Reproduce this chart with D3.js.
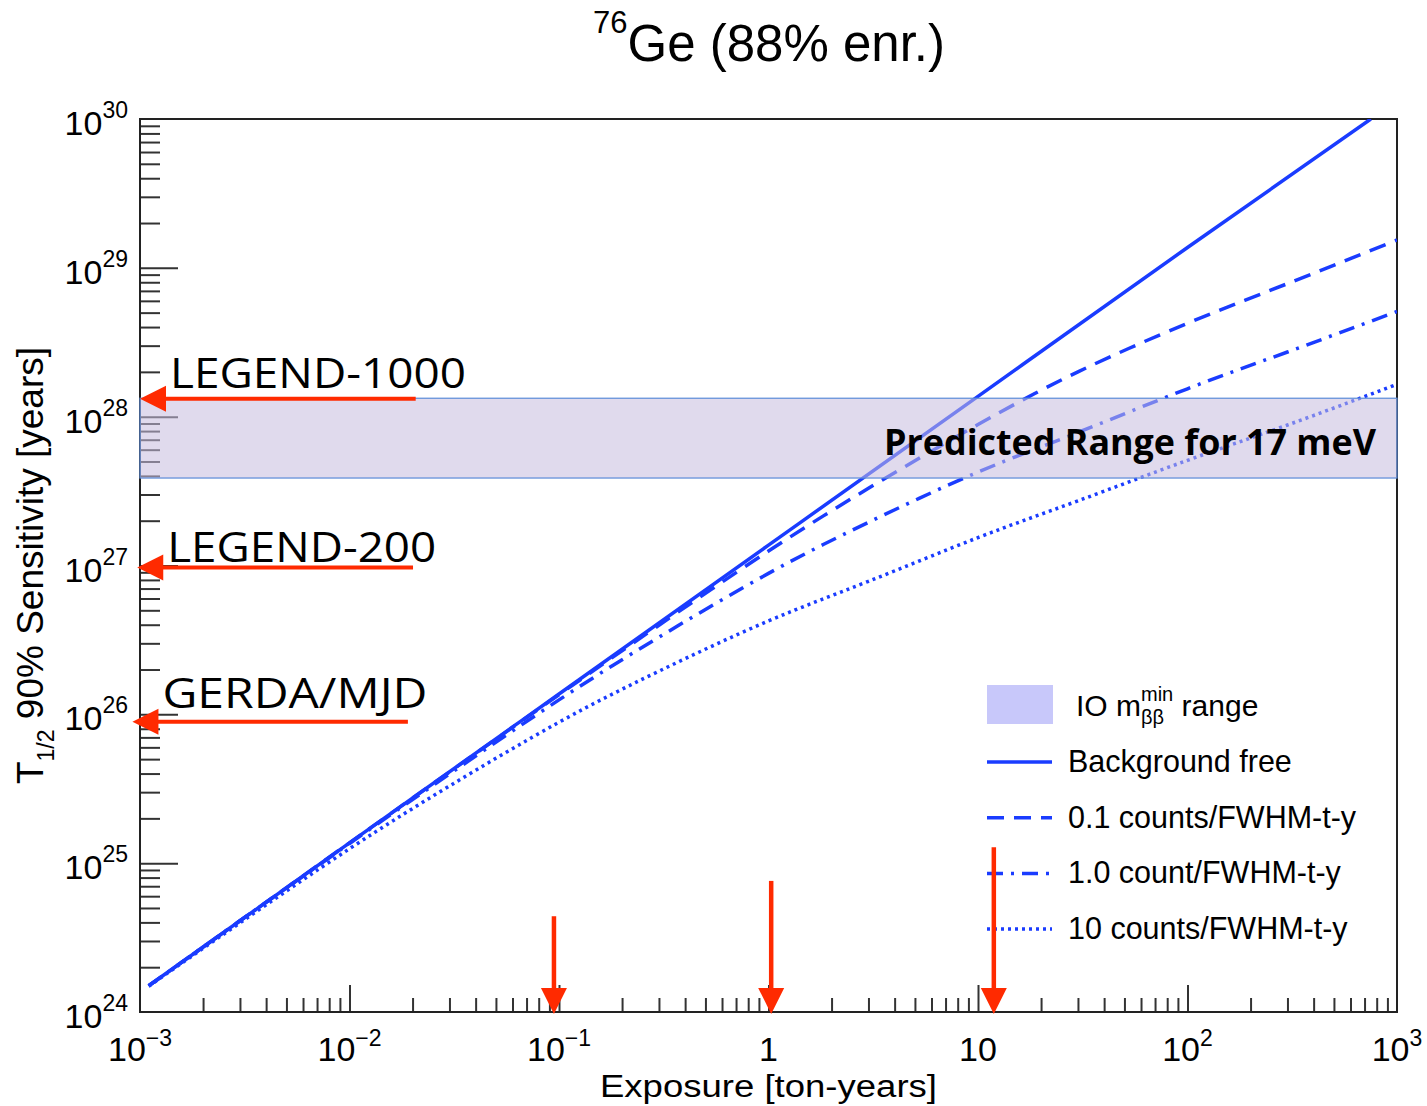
<!DOCTYPE html>
<html>
<head>
<meta charset="utf-8">
<script src="https://cdn.jsdelivr.net/npm/d3@7"></script>
<style>
  body { margin: 0; background: #fff; }
  svg text { font-family: "Liberation Sans", Arial, sans-serif; fill: #000; }
  .ppt { font-family: "Open Sans", "Noto Sans", sans-serif; }
</style>
</head>
<body>
<div id="chart"></div>
<script>
// ---- data ----
const bgFreeExposure = [0.0011, 0.01, 0.1, 1, 10, 100, 750];
const bgFreeT = [1.5e24, 1.37e25, 1.37e26, 1.37e27, 1.37e28, 1.37e29, 1e30];

const exposure = [0.0011, 0.003, 0.01, 0.03, 0.1, 0.3, 1, 3, 10, 30, 100, 300, 1000];
const bg01T = [1.5e24, 4.1e24, 1.37e25, 4.1e25, 1.355e26, 3.97e26, 1.25e27, 3.3e27, 8.85e27, 2.0e28, 4.24e28, 7.83e28, 1.54e29];
const bg1T = [1.5e24, 4.1e24, 1.355e25, 3.97e25, 1.25e26, 3.3e26, 8.85e26, 1.95e27, 4.24e27, 7.83e27, 1.54e28, 2.72e28, 5.09e28];
const bg10T = [1.49e24, 3.97e24, 1.25e25, 3.3e25, 8.85e25, 1.95e26, 4.24e26, 7.83e26, 1.54e27, 2.72e27, 5.09e27, 8.79e27, 1.65e28];

// IO band (predicted range for 17 meV)
const bandT = [3.87e27, 1.33e28];

const legendNames = ['Background free', '0.1 counts/FWHM-t-y', '1.0 count/FWHM-t-y', '10 counts/FWHM-t-y'];

// experiment markers (red arrows on the y axis)
const markerNames = ['LEGEND-1000', 'LEGEND-200', 'GERDA/MJD'];
const markerT = [1.32e28, 9.7e26, 8.9e25];
const markerTipE = [1e-3, 0.97e-3, 0.92e-3];
const markerTailE = [0.0207, 0.0201, 0.019];
// exposure markers (red arrows on the x axis)
const exposureMarks = [0.0946, 1.03, 11.9];
const exposureMarkTop = [4.4e24, 7.6e24, 1.28e25];

// tick labels
const xMajor = [1e-3, 1e-2, 1e-1, 1, 10, 100, 1000];
const xLabelBase = ['10', '10', '10', '1', '10', '10', '10'];
const xLabelExp = ['\u22123', '\u22122', '\u22121', '', '', '2', '3'];
const yMajor = [1e24, 1e25, 1e26, 1e27, 1e28, 1e29, 1e30];
const yLabelExp = ['24', '25', '26', '27', '28', '29', '30'];

// ---- layout ----
const width = 1427, height = 1106;
const plot = { left: 140, right: 1397, top: 119, bottom: 1012 };
const blue = '#1a3cff';
const red = '#ff2a00';

const svg = d3.select('#chart').append('svg')
  .attr('width', width)
  .attr('height', height);

const x = d3.scaleLog().domain([1e-3, 1e3]).range([plot.left, plot.right]);
const y = d3.scaleLog().domain([1e24, 1e30]).range([plot.bottom, plot.top]);

svg.append('clipPath').attr('id', 'clip')
  .append('rect')
  .attr('x', plot.left).attr('y', plot.top)
  .attr('width', plot.right - plot.left).attr('height', plot.bottom - plot.top);

// minor tick values
const yMinor = [], xMinor = [];
for (let e = 24; e < 30; e++) for (let k = 2; k <= 9; k++) yMinor.push(k * Math.pow(10, e));
for (let e = -3; e < 3; e++) for (let k = 2; k <= 9; k++) xMinor.push(k * Math.pow(10, e));

function styleAxis(g) {
  g.select('.domain').remove();
  g.selectAll('line').attr('stroke', '#333').attr('stroke-width', 2);
}

svg.append('g').attr('transform', `translate(${plot.left},0)`)
  .call(d3.axisLeft(y).tickValues(yMinor).tickSize(-20).tickFormat(''))
  .call(styleAxis);
svg.append('g').attr('transform', `translate(${plot.left},0)`)
  .call(d3.axisLeft(y).tickValues(yMajor.slice(1, -1)).tickSize(-38).tickFormat(''))
  .call(styleAxis);
svg.append('g').attr('transform', `translate(0,${plot.bottom})`)
  .call(d3.axisBottom(x).tickValues(xMinor).tickSize(-14).tickFormat(''))
  .call(styleAxis);
svg.append('g').attr('transform', `translate(0,${plot.bottom})`)
  .call(d3.axisBottom(x).tickValues(xMajor.slice(1, -1)).tickSize(-27).tickFormat(''))
  .call(styleAxis);

// frame
svg.append('rect')
  .attr('x', plot.left).attr('y', plot.top)
  .attr('width', plot.right - plot.left).attr('height', plot.bottom - plot.top)
  .attr('fill', 'none').attr('stroke', '#222').attr('stroke-width', 2);

// y tick labels
const yLab = svg.append('g').selectAll('text').data(yMajor).join('text')
  .attr('x', 128)
  .attr('y', d => y(d) + 16)
  .attr('text-anchor', 'end')
  .attr('font-size', 34);
yLab.append('tspan').text('10');
yLab.append('tspan').attr('font-size', 23).attr('dy', -17).text((d, i) => yLabelExp[i]);

// x tick labels
const xLab = svg.append('g').selectAll('text').data(xMajor).join('text')
  .attr('x', d => x(d))
  .attr('y', 1061)
  .attr('text-anchor', 'middle')
  .attr('font-size', 34);
xLab.append('tspan').text((d, i) => xLabelBase[i]);
xLab.append('tspan').attr('font-size', 23).attr('dy', -15).text((d, i) => xLabelExp[i]);

// axis titles
svg.append('text')
  .attr('x', (plot.left + plot.right) / 2)
  .attr('y', 1097)
  .attr('text-anchor', 'middle')
  .attr('font-size', 31)
  .attr('textLength', 337)
  .attr('lengthAdjust', 'spacingAndGlyphs')
  .text('Exposure [ton-years]');

const yTitle = svg.append('text')
  .attr('transform', `translate(43,${(plot.top + plot.bottom) / 2}) rotate(-90)`)
  .attr('text-anchor', 'middle')
  .attr('font-size', 37);
yTitle.append('tspan').text('T');
yTitle.append('tspan').attr('font-size', 23).attr('dy', 11).text('1/2');
yTitle.append('tspan').attr('dy', -11).text(' 90% Sensitivity [years]');

// title
const title = svg.append('text')
  .attr('x', 769).attr('y', 61)
  .attr('text-anchor', 'middle')
  .attr('font-size', 51);
title.append('tspan').attr('font-size', 31).attr('dy', -28).text('76');
title.append('tspan').attr('dy', 28).text('Ge (88% enr.)');

// curves
const line = d3.line()
  .x(d => x(d[0]))
  .y(d => y(d[1]))
  .curve(d3.curveNatural);

const series = [
  { pts: d3.zip(bgFreeExposure, bgFreeT), dash: null },
  { pts: d3.zip(exposure, bg01T), dash: '17,10' },
  { pts: d3.zip(exposure, bg1T), dash: '16,8,3,8' },
  { pts: d3.zip(exposure, bg10T), dash: '3,4' }
];

const curves = svg.append('g').attr('clip-path', 'url(#clip)');
curves.selectAll('path').data(series).join('path')
  .attr('d', d => line(d.pts))
  .attr('fill', 'none')
  .attr('stroke', blue)
  .attr('stroke-width', 3.5)
  .attr('stroke-dasharray', d => d.dash);

// legend
const legend = svg.append('g');
legend.append('rect')
  .attr('x', 987).attr('y', 685).attr('width', 66).attr('height', 39)
  .attr('fill', '#c8c8fa');
const io = legend.append('text').attr('x', 1076).attr('y', 716).attr('font-size', 30);
io.append('tspan').text('IO m');
io.append('tspan').attr('font-size', 20).attr('dy', 8).text('\u03b2\u03b2');
io.append('tspan').attr('font-size', 20).attr('dx', -23).attr('dy', -23).text('min');
io.append('tspan').attr('dy', 15).text(' range');

const legendRows = legend.selectAll('g.row').data(series).join('g')
  .attr('class', 'row')
  .attr('transform', (d, i) => `translate(0,${762 + i * 55.7})`);
legendRows.append('line')
  .attr('x1', 987).attr('x2', 1052)
  .attr('stroke', blue).attr('stroke-width', 3.5)
  .attr('stroke-dasharray', d => d.dash);
legendRows.append('text')
  .attr('x', 1068).attr('y', 10)
  .attr('font-size', 30.5)
  .text((d, i) => legendNames[i]);

// predicted band (drawn over curves)
svg.append('rect')
  .attr('x', plot.left)
  .attr('y', y(bandT[1]))
  .attr('width', plot.right - plot.left)
  .attr('height', y(bandT[0]) - y(bandT[1]))
  .attr('fill', 'rgb(199,188,222)')
  .attr('fill-opacity', 0.55)
  .attr('stroke', '#5b8bd8')
  .attr('stroke-width', 1.2);

svg.append('text')
  .attr('class', 'ppt')
  .attr('x', 1376).attr('y', 455)
  .attr('text-anchor', 'end')
  .attr('font-size', 35)
  .attr('font-weight', 'bold')
  .attr('textLength', 492)
  .attr('lengthAdjust', 'spacingAndGlyphs')
  .text('Predicted Range for 17 meV');

// red markers on the y axis
const markerWidths = [296, 269, 265];
const markerDy = [11, 5, 14];
const marks = svg.append('g').selectAll('g').data(markerNames).join('g');
marks.append('line')
  .attr('x1', (d, i) => x(markerTailE[i]))
  .attr('x2', (d, i) => x(markerTipE[i]) + 20)
  .attr('y1', (d, i) => y(markerT[i]))
  .attr('y2', (d, i) => y(markerT[i]))
  .attr('stroke', red).attr('stroke-width', 4);
marks.append('path')
  .attr('d', (d, i) => {
    const tx = x(markerTipE[i]), ty = y(markerT[i]);
    return `M${tx},${ty}L${tx + 26},${ty - 13}L${tx + 26},${ty + 13}Z`;
  })
  .attr('fill', red);
marks.append('text')
  .attr('class', 'ppt')
  .attr('x', (d, i) => x(markerTipE[i]) + 30)
  .attr('y', (d, i) => y(markerT[i]) - markerDy[i])
  .attr('font-size', 42)
  .attr('textLength', (d, i) => markerWidths[i])
  .attr('lengthAdjust', 'spacingAndGlyphs')
  .text(d => d);

// red markers on the x axis
const vmarks = svg.append('g').selectAll('g').data(exposureMarks).join('g');
vmarks.append('line')
  .attr('x1', d => x(d)).attr('x2', d => x(d))
  .attr('y1', (d, i) => y(exposureMarkTop[i]))
  .attr('y2', plot.bottom - 20)
  .attr('stroke', red).attr('stroke-width', 4.5);
vmarks.append('path')
  .attr('d', d => {
    const tx = x(d), ty = plot.bottom + 2;
    return `M${tx},${ty}L${tx - 13},${ty - 26}L${tx + 13},${ty - 26}Z`;
  })
  .attr('fill', red);
</script>
</body>
</html>
